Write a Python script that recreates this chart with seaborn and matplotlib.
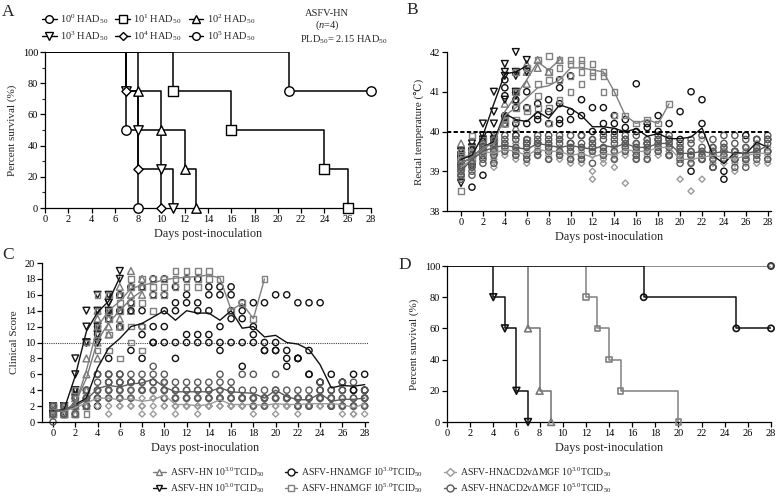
import numpy as np
import pandas as pd
import matplotlib
matplotlib.use("Agg")
import matplotlib.pyplot as plt
import seaborn as sns
from matplotlib.lines import Line2D
from matplotlib.ticker import MultipleLocator

sns.set_theme(style="ticks")
plt.rcParams["font.family"] = ["Liberation Serif", "DejaVu Serif"]
plt.rcParams["mathtext.fontset"] = "custom"
plt.rcParams["mathtext.rm"] = "Liberation Serif"
plt.rcParams["mathtext.it"] = "Liberation Serif:italic"
plt.rcParams["mathtext.bf"] = "Liberation Serif:bold"

# ---------------- Panel A: survival by dose ----------------
a_labels = [r"$10^0$ HAD$_{50}$", r"$10^1$ HAD$_{50}$", r"$10^2$ HAD$_{50}$",
            r"$10^3$ HAD$_{50}$", r"$10^4$ HAD$_{50}$", r"$10^5$ HAD$_{50}$"]
a_days = [[0, 21, 28], [0, 11, 16, 24, 26], [0, 8, 10, 12, 13],
          [0, 7, 8, 10, 11], [0, 7, 8, 10], [0, 7, 8]]
a_surv = [[100, 75, 75], [100, 75, 50, 25, 0], [100, 75, 50, 25, 0],
          [100, 75, 50, 25, 0], [100, 75, 25, 0], [100, 50, 0]]
a_markers = ["o", "s", "^", "v", "D", "o"]

# ---------------- Groups for B, C, D ----------------
grp_labels = [r"ASFV-HN $10^{3.0}$TCID$_{50}$", r"ASFV-HN $10^{5.0}$TCID$_{50}$",
              r"ASFV-HN$\Delta$MGF $10^{3.0}$TCID$_{50}$", r"ASFV-HN$\Delta$MGF $10^{5.0}$TCID$_{50}$",
              r"ASFV-HN$\Delta$CD2v$\Delta$MGF $10^{3.0}$TCID$_{50}$",
              r"ASFV-HN$\Delta$CD2v$\Delta$MGF $10^{5.0}$TCID$_{50}$"]
grp_markers = ["^", "v", "o", "s", "D", "o"]
grp_colors = ["#7a7a7a", "#111111", "#111111", "#808080", "#9a9a9a", "#5a5a5a"]

# Panel B: rectal temperature per pig per day (index = day)
b_hn3 = [[39.7, 39.5, 39.4, 39.2, 39.1], [39.5, 39.4, 39.3, 39.2, 39.6], [39.8, 39.6, 39.5, 39.4],
         [39.9, 39.7, 39.6, 39.5, 39.3], [40.7, 40.4, 40.3, 40.2], [41.5, 41.0, 40.8, 40.1],
         [41.7, 41.5, 41.2], [41.8, 41.6], [41.5], [41.8]]
b_hn5 = [[38.7, 39.1, 39.3, 39.4, 39.5], [39.1, 39.3, 39.5, 39.6, 39.7], [40.2, 39.9, 39.8, 39.6],
         [41.0, 40.5, 40.2, 39.9, 39.8], [41.7, 41.5, 41.4, 40.8, 40.3], [42.0, 41.5, 41.4, 41.0, 40.9],
         [41.8, 41.5]]
b_mgf3 = [[39.3, 39.1, 38.9, 39.2, 39.4], [38.6, 39.3, 39.5, 39.4, 39.2], [38.9, 39.4, 39.6, 39.8, 39.5],
          [39.6, 39.8, 39.5, 39.7], [41.3, 41.1, 40.9, 40.4, 40.2], [41.0, 40.8, 40.6, 40.2, 39.9],
          [41.0, 40.6, 40.2, 39.7], [40.7, 40.4, 40.3, 39.7], [40.8, 40.5, 40.2, 39.5],
          [41.3, 41.1, 40.7, 40.3, 40.2], [41.4, 40.5, 40.3, 39.7], [40.8, 40.4, 39.9],
          [40.6, 40.0, 39.6], [40.6, 40.2, 40.0], [40.4, 40.2, 40.0], [40.3, 40.1, 39.8],
          [41.2, 40.0, 39.5], [40.2, 40.1, 39.7], [40.4, 40.0, 39.8], [40.2, 39.8, 39.4],
          [40.5, 39.8, 39.3], [41.0, 39.4, 39.0], [40.8, 40.2, 39.3], [39.4, 39.1],
          [39.0, 38.8, 39.5], [39.5, 39.3], [39.9, 39.3], [39.8, 39.5], [39.8, 39.5]]
b_mgf5 = [[39.5, 39.4, 39.2, 39.1, 38.5], [39.9, 39.6, 39.4, 39.3], [39.8, 39.6, 39.5],
          [39.8, 39.6, 39.5], [40.4, 40.3, 40.2], [41.5, 41.0, 40.6, 40.3], [41.6, 40.6, 40.5, 39.8],
          [41.8, 41.2, 40.9, 40.6], [41.9, 41.5, 41.3, 40.6, 40.2], [41.8, 41.6, 41.3, 40.8],
          [41.8, 41.7, 41.4, 41.0], [41.8, 41.7, 41.5, 41.2], [41.7, 41.5, 41.4], [41.5, 41.4, 41.0],
          [41.0, 40.4], [40.4], [40.2], [40.3], [40.2], [40.7]]
b_cd3 = [[39.0, 39.1, 39.2, 39.3, 38.9], [39.2, 39.3, 39.4, 39.5, 39.1], [39.4, 39.5, 39.6, 39.7, 39.5],
         [39.1, 39.3, 39.4, 39.5, 39.6], [39.4, 39.5, 39.6, 39.7, 39.5], [39.3, 39.4, 39.5, 39.6, 39.7],
         [39.2, 39.3, 39.5, 39.6, 39.4], [39.4, 39.5, 39.6, 39.7, 39.5], [39.3, 39.4, 39.5, 39.6, 39.7],
         [39.3, 39.4, 39.5, 39.6, 39.8], [39.2, 39.3, 39.4, 39.5, 39.6], [39.2, 39.3, 39.4, 39.6, 39.5],
         [38.8, 39.0, 39.4, 39.5, 39.8], [39.3, 39.4, 39.5, 39.6, 39.2], [39.1, 39.4, 39.5, 39.6, 39.3],
         [38.7, 39.4, 39.5, 39.6, 39.7], [39.4, 39.5, 39.6, 39.3, 39.7], [39.4, 39.5, 39.6, 39.8, 39.3],
         [39.5, 39.6, 39.7, 39.8, 39.4], [39.5, 39.6, 39.7, 39.8, 39.4], [38.8, 39.3, 39.4, 39.5, 39.6],
         [38.5, 39.2, 39.3, 39.4, 39.5], [38.8, 39.3, 39.5, 39.8, 39.4], [39.2, 39.3, 39.4, 39.5, 39.6],
         [39.3, 39.4, 39.5, 39.6, 39.2], [39.0, 39.2, 39.3, 39.4, 39.5], [39.2, 39.3, 39.4, 39.5, 39.6],
         [39.2, 39.4, 39.5, 39.6, 39.7], [39.2, 39.3, 39.4, 39.6, 39.5]]
b_cd5 = [[39.0, 39.1, 38.9, 39.2, 38.8], [39.0, 39.2, 39.4, 38.9, 39.1], [39.3, 39.5, 39.6, 39.7, 39.2],
         [39.2, 39.4, 39.5, 39.7, 39.8], [39.5, 39.6, 39.7, 39.8, 39.9], [39.4, 39.5, 39.6, 39.8, 39.9],
         [39.3, 39.4, 39.6, 39.7, 39.8], [39.4, 39.5, 39.7, 39.8, 39.9], [39.3, 39.6, 39.7, 39.8, 39.9],
         [39.4, 39.5, 39.7, 39.8, 39.9], [39.3, 39.5, 39.6, 39.7, 39.9], [39.3, 39.4, 39.6, 39.7, 39.9],
         [39.2, 39.5, 39.6, 39.7, 39.8], [39.4, 39.5, 39.6, 39.8, 39.9], [39.3, 39.5, 39.7, 39.8, 39.9],
         [39.5, 39.6, 39.7, 39.8, 39.9], [39.3, 39.4, 39.6, 39.7, 39.9], [39.3, 39.5, 39.6, 39.7, 39.8],
         [39.5, 39.6, 39.7, 39.8, 39.9], [39.4, 39.6, 39.7, 39.8, 39.9], [39.2, 39.4, 39.5, 39.6, 39.7],
         [39.2, 39.4, 39.5, 39.7, 39.8], [39.3, 39.4, 39.5, 39.6, 39.9], [39.1, 39.3, 39.5, 39.6, 39.8],
         [39.3, 39.4, 39.6, 39.7, 39.9], [39.1, 39.3, 39.5, 39.7, 39.9], [39.1, 39.3, 39.4, 39.6, 39.8],
         [39.3, 39.4, 39.5, 39.6, 39.8], [39.3, 39.5, 39.7, 39.8, 39.9]]
# group means (lines) for panel B
bm_hn3 = [39.35, 39.4, 39.55, 39.75, 40.5, 40.9, 41.3, 41.75, 41.55, 41.8]
bm_hn5 = [39.3, 39.4, 39.9, 40.7, 41.45, 41.5, 41.65]
bm_mgf3 = [39.2, 39.35, 39.6, 39.75, 40.45, 40.3, 40.25, 40.5, 40.33, 40.67, 40.58, 40.4, 40.12, 40.12,
           40.08, 39.99, 40.07, 39.88, 39.95, 39.82, 39.82, 39.86, 40.09, 39.4, 39.19, 39.48, 39.44, 39.73, 39.6]
bm_mgf5 = [39.2, 39.35, 39.6, 39.7, 40.4, 40.6, 40.85, 41.1, 41.15, 41.3, 41.6, 41.6, 41.55, 41.5,
           41.0, 40.4, 40.2, 40.3, 40.2, 40.7]
bm_cd3 = [39.1, 39.3, 39.5, 39.45, 39.55, 39.5, 39.4, 39.55, 39.5, 39.5, 39.4, 39.45, 39.35, 39.45,
          39.4, 39.55, 39.5, 39.5, 39.6, 39.6, 39.3, 39.3, 39.35, 39.4, 39.35, 39.3, 39.4, 39.45, 39.45]
bm_cd5 = [39.0, 39.3, 39.5, 39.6, 39.65, 39.6, 39.55, 39.7, 39.65, 39.6, 39.65, 39.6, 39.55, 39.65,
          39.6, 39.7, 39.6, 39.6, 39.7, 39.7, 39.45, 39.45, 39.5, 39.45, 39.5, 39.45, 39.45, 39.5, 39.65]

# Panel C: clinical score per pig per day
c_hn3 = [[1, 2, 1, 1, 2], [1, 1, 2, 1, 2], [4, 3, 2, 2, 1], [8, 6, 4, 3, 2], [14, 13, 12, 10, 8],
         [16, 14, 12, 11, 13], [17, 16, 14, 13, 12], [19, 17, 16, 14], [18, 16, 17]]
c_hn5 = [[1, 2, 1, 2, 1], [1, 2, 1, 2, 1], [8, 6, 4, 4, 3], [14, 12, 10, 10, 10], [16, 14, 12, 11, 10],
         [16, 15, 15, 14], [19, 18]]
c_mgf3 = [[1, 2, 1, 1, 2], [1, 1, 2, 2, 1], [4, 3, 2, 2, 1], [10, 4, 3, 2, 2], [12, 11, 6, 4, 2],
          [14, 13, 8, 6, 5], [16, 14, 12, 6, 5], [17, 15, 14, 9, 5], [17, 14, 12, 11, 8],
          [18, 16, 12, 10, 10], [18, 16, 14, 12, 10], [17, 15, 14, 10, 8], [18, 16, 15, 11, 10],
          [18, 15, 14, 11, 10], [17, 16, 14, 11, 10], [17, 16, 12, 10, 9], [17, 16, 14, 13, 10],
          [15, 14, 13, 10, 7], [15, 12, 11, 10], [15, 10, 9, 9], [16, 10, 9, 9], [16, 9, 8, 7],
          [15, 8, 8, 8], [15, 9, 6, 6], [15, 5, 4, 5], [6, 4, 3], [5, 4, 5], [6, 4, 4], [6, 4, 4]]
c_mgf5 = [[2, 2, 1, 1, 2], [2, 1, 1, 2, 1], [4, 3, 2, 1, 1], [10, 10, 4, 2, 1], [16, 14, 12, 11, 9],
          [16, 14, 13, 11, 9], [16, 15, 14, 12, 8], [18, 17, 15, 12, 10], [18, 17, 15, 12, 9],
          [18, 17, 16, 14], [18, 17, 16], [19, 18, 17], [19, 18, 17], [19, 18, 17], [19, 18],
          [18], [14], [15], [13], [18]]
c_cd3 = [[1, 2, 1, 2, 1], [1, 2, 1, 1, 2], [2, 2, 1, 2, 3], [2, 3, 2, 3, 4], [3, 3, 2, 4, 3],
         [4, 3, 2, 3, 1], [3, 3, 2, 2, 4], [4, 3, 2, 2, 3], [4, 3, 2, 1, 2], [3, 3, 2, 1, 4],
         [5, 4, 3, 2, 2], [3, 2, 2, 2, 1], [3, 2, 2, 2, 2], [3, 2, 2, 1, 2], [3, 2, 2, 2, 2],
         [4, 3, 2, 2, 3], [3, 2, 2, 2, 2], [3, 2, 2, 2, 2], [3, 2, 2, 1, 3], [3, 2, 2, 2, 2],
         [3, 2, 2, 1, 3], [3, 2, 2, 2, 2], [3, 2, 2, 1, 3], [3, 2, 2, 2, 2], [3, 2, 2, 2, 3],
         [3, 2, 2, 2, 2], [3, 2, 2, 1, 2], [2, 2, 2, 1, 1], [3, 2, 2, 2, 1]]
c_cd5 = [[1, 2, 2, 1, 0], [1, 2, 1, 2, 1], [2, 3, 2, 1, 2], [3, 2, 4, 3, 2], [6, 5, 4, 3, 3],
         [6, 5, 4, 4, 3], [6, 5, 4, 4, 3], [6, 5, 5, 4, 3], [6, 5, 5, 4, 4], [7, 6, 5, 5, 4],
         [6, 5, 4, 4, 3], [5, 4, 4, 3, 3], [5, 4, 4, 3, 3], [5, 4, 4, 3, 3], [5, 4, 4, 3, 3],
         [6, 5, 4, 3, 3], [5, 4, 4, 3, 3], [6, 4, 3, 3, 3], [6, 4, 3, 3, 2], [4, 3, 3, 3, 2],
         [6, 4, 4, 3, 3], [4, 3, 3, 3, 3], [4, 3, 3, 2, 2], [4, 3, 3, 2, 2], [5, 4, 3, 3, 3],
         [4, 3, 2, 2, 2], [5, 4, 3, 2, 2], [5, 3, 3, 2, 2], [4, 3, 3, 3, 2]]
cm_hn3 = [1.4, 1.4, 2.4, 5.5, 10.2, 12.5, 14.0, 15.5, 16.5]
cm_hn5 = [1.4, 1.6, 5.8, 11.4, 13.8, 15.2, 18.2]
cm_mgf3 = [1.4, 1.4, 2.2, 3.0, 6.8, 9.3, 10.5, 12.0, 12.4, 13.2, 14.0, 12.8, 14.0, 13.7, 13.7, 12.8,
           14.0, 11.8, 12.0, 10.7, 10.9, 10.0, 9.8, 9.1, 7.2, 4.3, 4.6, 4.5, 4.7]
cm_mgf5 = [1.6, 1.4, 2.2, 6.5, 12.0, 14.0, 15.2, 16.8, 17.2, 17.5, 17.9, 18.1, 18.2, 18.3, 18.5,
           18.1, 14.1, 14.9, 13.0, 18.0]
cm_cd3 = [1.3, 1.4, 1.8, 2.4, 3.0, 3.0, 2.8, 2.9, 2.6, 2.8, 3.4, 2.2, 2.2, 2.05, 2.2, 2.8, 2.2, 2.2,
          2.2, 2.1, 2.3, 2.2, 2.2, 2.3, 2.3, 2.3, 2.2, 1.8, 2.3]
cm_cd5 = [1.3, 1.5, 2.0, 2.8, 4.2, 4.6, 4.4, 4.8, 4.9, 5.4, 4.4, 3.8, 3.8, 3.8, 3.8, 4.3, 3.8, 3.7,
          3.6, 3.0, 4.0, 3.2, 2.8, 2.8, 3.6, 2.6, 2.85, 2.85, 3.0]

# Panel D: survival
d_days = [[0, 7, 8, 9], [0, 4, 5, 6, 7], [0, 17, 25, 28], [0, 12, 13, 14, 15, 20], [0, 28], [0, 28]]
d_surv = [[100, 60, 20, 0], [100, 80, 60, 20, 0], [100, 80, 60, 60], [100, 80, 60, 40, 20, 0],
          [100, 100], [100, 100]]

b_points = [b_hn3, b_hn5, b_mgf3, b_mgf5, b_cd3, b_cd5]
b_means = [bm_hn3, bm_hn5, bm_mgf3, bm_mgf5, bm_cd3, bm_cd5]
c_points = [c_hn3, c_hn5, c_mgf3, c_mgf5, c_cd3, c_cd5]
c_means = [cm_hn3, cm_hn5, cm_mgf3, cm_mgf5, cm_cd3, cm_cd5]


def long_df(per_day):
    rows = [(d, v) for d, vals in enumerate(per_day) for v in vals]
    return pd.DataFrame(rows, columns=["day", "value"])


W, H = 779, 498
fig = plt.figure(figsize=(W / 100, H / 100), dpi=100)


def px_axes(x0, y0, x1, y1):
    return fig.add_axes([x0 / W, 1 - y1 / H, (x1 - x0) / W, (y1 - y0) / H])


TICK = 7.5
XLAB = 8.8
YLAB = 8.0


def style(ax):
    sns.despine(ax=ax)
    for s in ("left", "bottom"):
        ax.spines[s].set_linewidth(0.9)
        ax.spines[s].set_color("black")
    ax.tick_params(axis="both", which="major", labelsize=TICK, length=3.5, width=0.9, pad=1.5,
                   colors="black", direction="out")
    ax.tick_params(axis="both", which="minor", length=2, width=0.8, direction="out")
    ax.grid(False)
    ax.set_facecolor("white")


sizes = {"o": 20, "s": 17, "^": 24, "v": 24, "D": 10}

# ---------------- Panel A ----------------
axA = px_axes(45, 52, 371, 208)
for i in range(6):
    df = pd.DataFrame({"day": a_days[i], "surv": a_surv[i]})
    sns.lineplot(data=df, x="day", y="surv", drawstyle="steps-post", color="black", lw=1.1,
                 estimator=None, ax=axA, zorder=2)
    sns.scatterplot(data=df.iloc[1:], x="day", y="surv", marker=a_markers[i], s=46 if a_markers[i] != "D" else 22,
                    facecolor="white", edgecolor="black", linewidth=1.0, ax=axA, zorder=3, clip_on=False)
axA.set_xlim(0, 28)
axA.set_ylim(0, 100)
axA.xaxis.set_major_locator(MultipleLocator(2))
axA.yaxis.set_major_locator(MultipleLocator(20))
axA.yaxis.set_minor_locator(MultipleLocator(10))
axA.set_xlabel("Days post-inoculation", fontsize=XLAB, labelpad=3)
axA.set_ylabel("Percent survival (%)", fontsize=YLAB, labelpad=4)
style(axA)
handlesA = [Line2D([], [], color="black", lw=1.0, marker=m, ms=5.5 if m != "D" else 4, mfc="white",
                   mec="black", mew=1.0) for m in a_markers]
order = [0, 3, 1, 4, 2, 5]
axA.legend([handlesA[k] for k in order], [a_labels[k] for k in order], ncol=3, loc="upper left",
           bbox_to_anchor=(42 / W, 1 - 12 / H), bbox_transform=fig.transFigure, frameon=False,
           fontsize=7.5, handlelength=1.4, handletextpad=0.3, columnspacing=0.7, labelspacing=0.3,
           borderpad=0, borderaxespad=0)
fig.text(327 / W, 1 - 13 / H, "ASFV-HN", ha="center", va="center", fontsize=7.5)
fig.text(327 / W, 1 - 25 / H, r"($\mathit{n}$=4)", ha="center", va="center", fontsize=7.5)
fig.text(344 / W, 1 - 40 / H, r"PLD$_{50}$= 2.15 HAD$_{50}$", ha="center", va="center", fontsize=7.5)

# ---------------- Panel B ----------------
axB = px_axes(447, 52, 771, 211)
for i in range(6):
    df = long_df(b_points[i])
    m = grp_markers[i]
    sns.scatterplot(data=df, x="day", y="value", marker=m, s=sizes[m], facecolor="none",
                    edgecolor=grp_colors[i], linewidth=1.0, ax=axB, zorder=2, clip_on=False)
for i in range(6):
    dm = pd.DataFrame({"day": range(len(b_means[i])), "mean": b_means[i]})
    sns.lineplot(data=dm, x="day", y="mean", color=grp_colors[i], lw=1.0, estimator=None, ax=axB, zorder=3)
axB.axhline(40, color="black", lw=1.4, ls=(0, (2.2, 1.2)), zorder=4)
axB.set_xlim(-1.28, 28.3)
axB.set_ylim(38, 42)
axB.xaxis.set_major_locator(MultipleLocator(2))
axB.yaxis.set_major_locator(MultipleLocator(1))
axB.set_xlabel("Days post-inoculation", fontsize=XLAB, labelpad=3)
axB.set_ylabel("Rectal temperature (\u2103)", fontsize=YLAB, labelpad=4)
style(axB)

# ---------------- Panel C ----------------
axC = px_axes(42, 263, 368, 422)
for i in range(6):
    df = long_df(c_points[i])
    m = grp_markers[i]
    sns.scatterplot(data=df, x="day", y="value", marker=m, s=sizes[m], facecolor="none",
                    edgecolor=grp_colors[i], linewidth=1.0, ax=axC, zorder=2, clip_on=False)
for i in range(6):
    dm = pd.DataFrame({"day": range(len(c_means[i])), "mean": c_means[i]})
    sns.lineplot(data=dm, x="day", y="mean", color=grp_colors[i], lw=1.0, estimator=None, ax=axC, zorder=3)
axC.axhline(10, color="#444444", lw=0.8, ls=(0, (1, 1)), zorder=1)
axC.set_xlim(-0.99, 28.3)
axC.set_ylim(0, 20)
axC.xaxis.set_major_locator(MultipleLocator(2))
axC.yaxis.set_major_locator(MultipleLocator(2))
axC.set_xlabel("Days post-inoculation", fontsize=XLAB, labelpad=3)
axC.set_ylabel("Clinical Score", fontsize=YLAB, labelpad=4)
style(axC)

# ---------------- Panel D ----------------
axD = px_axes(447, 266, 771, 422)
d_line_colors = ["#707070", "#111111", "#111111", "#808080", "#8a8a8a", "#8a8a8a"]
for i in [4, 5, 0, 3, 2, 1]:
    df = pd.DataFrame({"day": d_days[i], "surv": d_surv[i]})
    sns.lineplot(data=df, x="day", y="surv", drawstyle="steps-post", color=d_line_colors[i], lw=1.1,
                 estimator=None, ax=axD, zorder=2)
    m = grp_markers[i]
    sns.scatterplot(data=df.iloc[1:], x="day", y="surv", marker=m, s=sizes[m], facecolor="none",
                    edgecolor=grp_colors[i] if i != 5 else "#333333", linewidth=1.2, ax=axD, zorder=3,
                    clip_on=False)
axD.set_xlim(0, 28)
axD.set_ylim(0, 100)
axD.xaxis.set_major_locator(MultipleLocator(2))
axD.yaxis.set_major_locator(MultipleLocator(20))
axD.set_xlabel("Days post-inoculation", fontsize=XLAB, labelpad=3)
axD.set_ylabel("Percent survival (%)", fontsize=YLAB, labelpad=4)
style(axD)

# ---------------- Bottom legend ----------------
handles = [Line2D([], [], color=grp_colors[i], lw=1.0, marker=grp_markers[i],
                  ms=5 if grp_markers[i] != "D" else 3.8, mfc="white", mec=grp_colors[i], mew=1.0)
           for i in range(6)]
fig.legend(handles, grp_labels, ncol=3, loc="upper left", bbox_to_anchor=(153 / W, 1 - 465 / H),
           frameon=False, fontsize=7, handlelength=1.3, handletextpad=0.4, columnspacing=2.1,
           labelspacing=0.25, borderpad=0, borderaxespad=0)

# Panel letters
for t, x, y in [("A", 8, 12), ("B", 412, 10), ("C", 8, 255), ("D", 405, 265)]:
    fig.text(x / W, 1 - y / H, t, fontsize=12.5, ha="center", va="center")

fig.savefig("out.png", dpi=100, facecolor="white")
